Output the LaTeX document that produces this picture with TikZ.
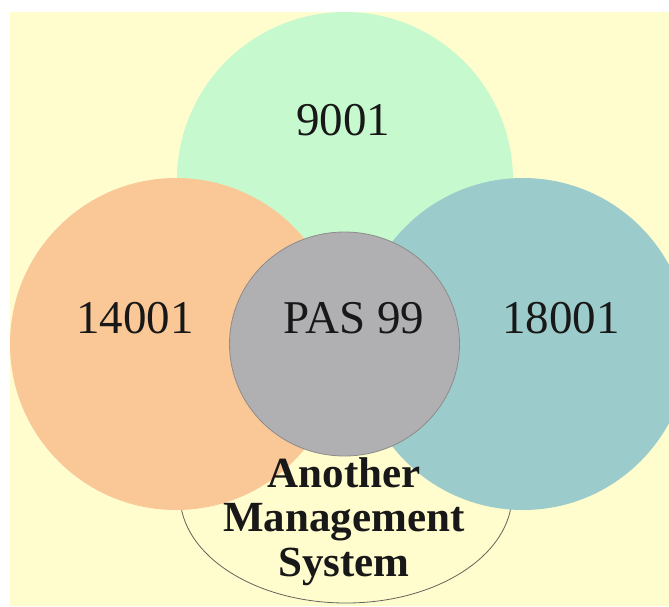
\documentclass[tikz,border=0pt]{standalone}
\usepackage{fontspec}
\setmainfont{Liberation Serif}
\usetikzlibrary{shapes.geometric}
\definecolor{bgyellow}{RGB}{255,252,206}
\definecolor{cgreen}{RGB}{198,250,206}
\definecolor{corange}{RGB}{250,200,150}
\definecolor{cteal}{RGB}{156,203,203}
\definecolor{cgray}{RGB}{176,176,178}
\definecolor{cgrayline}{RGB}{140,140,140}
\definecolor{cline}{RGB}{100,100,90}
\definecolor{ctext}{RGB}{24,24,24}
\begin{document}
\begin{tikzpicture}[x=1pt,y=1pt,
  disc/.style={circle,inner sep=0pt,outer sep=0pt},
  numlabel/.style={anchor=base,inner sep=0pt,text=ctext,font=\fontsize{47}{56}\selectfont},
  boldlabel/.style={anchor=base,inner sep=0pt,text=ctext,align=center,font=\fontsize{43}{44.5}\selectfont\bfseries}]
\fill[white] (0,0) rectangle (669,-606);
\useasboundingbox (0,0) rectangle (669,-606);
\fill[bgyellow] (10,-12) rectangle (669,-606);
\begin{scope}
\clip (10,-12) rectangle (669,-606);
\node[ellipse,inner sep=0pt,minimum width=332pt,minimum height=216pt,fill=bgyellow,draw=cline,line width=0.8pt] (ams) at (346,-495) {};
\node[disc,minimum size=336pt,fill=cgreen] (g) at (345,-180) {};
\node[disc,minimum size=332pt,fill=corange] (o) at (176,-344) {};
\node[disc,minimum size=332pt,fill=cteal] (t) at (523,-344) {};
\node[ellipse,inner sep=0pt,minimum width=230pt,minimum height=224pt,fill=cgray,draw=cgrayline,line width=0.8pt] (p) at (344.5,-344) {};
\end{scope}
\node[numlabel] (l9001) at (343,-135) {9001};
\node[numlabel] (l14001) at (135,-333) {14001};
\node[numlabel] (lpas) at (354,-333) {PAS 99};
\node[numlabel] (l18001) at (561,-333) {18001};
\node[boldlabel] (lams) at (344,-576) {Another\\Management\\System};
\end{tikzpicture}
\end{document}
